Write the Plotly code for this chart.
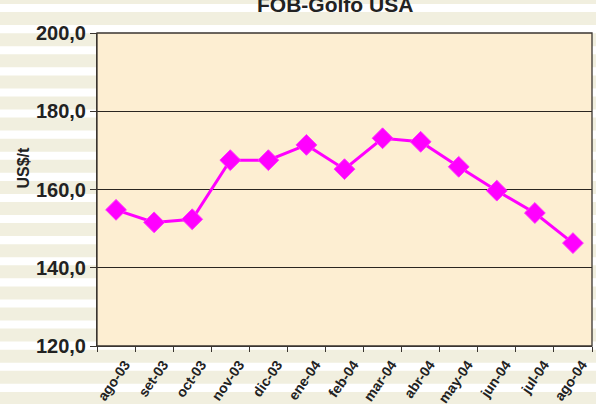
import plotly.graph_objects as go

# ---- data ----
months = ["ago-03", "set-03", "oct-03", "nov-03", "dic-03", "ene-04", "feb-04",
          "mar-04", "abr-04", "may-04", "jun-04", "jul-04", "ago-04"]
prices = [154.8, 151.6, 152.4, 167.5, 167.5, 171.4, 165.2,
          173.1, 172.2, 165.8, 159.7, 154.0, 146.3]
y_ticks = [120, 140, 160, 180, 200]
title_text = "FOB-Golfo USA"
y_title = "US$/t"

W, H = 596, 404
ML, MR, MT, MB = 97, 4, 33, 58
PW, PH = W - ML - MR, H - MT - MB

def px_x(x):
    return (x - ML) / PW

def px_y(y):
    return (H - MB - y) / PH

FONT = "Liberation Sans, Arial, sans-serif"

fig = go.Figure()
fig.add_trace(go.Scatter(
    x=months, y=prices, mode="lines+markers",
    line=dict(color="#ff00ff", width=3),
    marker=dict(symbol="diamond", size=16, color="#ff00ff",
                line=dict(color="#ff33ff", width=1)),
    showlegend=False, hoverinfo="x+y",
))

shapes = []
# background stripes
y0 = -9
while y0 < H:
    shapes.append(dict(type="rect", xref="paper", yref="paper", layer="below",
                       x0=px_x(0), x1=px_x(W), y0=px_y(y0), y1=px_y(y0 + 13),
                       fillcolor="#f1efdf", line=dict(width=0)))
    y0 += 21.1
# plot area fill
shapes.append(dict(type="rect", xref="paper", yref="paper", layer="below",
                   x0=0, x1=1, y0=0, y1=1, fillcolor="#fdeed2",
                   line=dict(width=0)))
# plot border
shapes.append(dict(type="rect", xref="paper", yref="paper", layer="above",
                   x0=0, x1=1, y0=0, y1=1, line=dict(color="#3a3530", width=1.3)))

annotations = [
    dict(text=title_text, xref="paper", yref="paper",
         x=px_x(334.5), y=px_y(4), xanchor="center", yanchor="middle",
         showarrow=False,
         font=dict(family=FONT, size=21, color="#222222", weight="bold")),
    dict(text=y_title, xref="paper", yref="paper",
         x=px_x(22.5), y=px_y(168), xanchor="center", yanchor="middle",
         textangle=-90, showarrow=False,
         font=dict(family=FONT, size=16, color="#222222", weight="bold")),
]

fig.update_layout(
    width=W, height=H,
    margin=dict(l=ML, r=MR, t=MT, b=MB, autoexpand=False),
    paper_bgcolor="#ffffff", plot_bgcolor="rgba(0,0,0,0)",
    separators=",.",
    shapes=shapes, annotations=annotations,
    font=dict(family=FONT, color="#222222"),
)
fig.update_xaxes(
    type="category", categoryorder="array", categoryarray=months,
    tickson="boundaries", ticks="outside", ticklen=5, tickcolor="#3a3530",
    tickangle=-55, showgrid=False, showline=True, linecolor="#3a3530",
    tickfont=dict(family=FONT, size=14, color="#222222", weight="bold"),
    ticklabelshift=9, ticklabelstandoff=4,
    automargin=False, range=[-0.5, len(months) - 0.5],
)
fig.update_yaxes(
    range=[120, 200], tickvals=y_ticks, tickformat=".1f",
    ticks="outside", ticklen=6, tickcolor="#3a3530",
    showgrid=True, gridcolor="#2a2520", gridwidth=1,
    showline=True, linecolor="#3a3530", zeroline=False,
    tickfont=dict(family=FONT, size=20, color="#222222", weight="bold"),
    automargin=False,
)
fig.write_html("out.html", config={"displayModeBar": False},
               post_script="document.body.style.margin='0';document.body.style.overflow='hidden';")
